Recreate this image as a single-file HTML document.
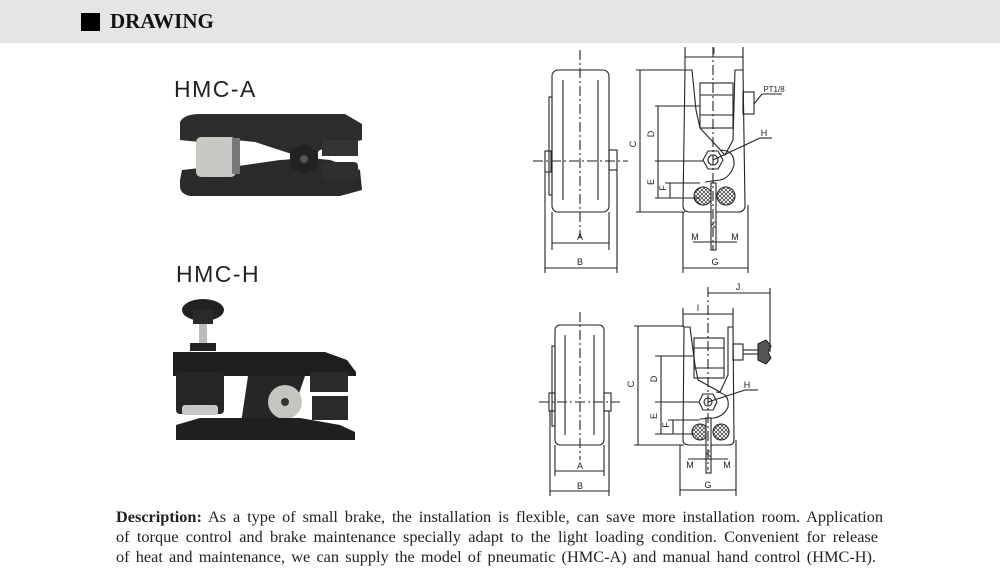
<!DOCTYPE html>
<html><head><meta charset="utf-8"><style>
body{margin:0;width:1000px;height:579px;background:#fff;overflow:hidden;position:relative;font-family:"Liberation Serif",serif}
.hdr{position:absolute;left:0;top:0;width:1000px;height:43px;background:#e5e5e5}
.sq{position:absolute;left:81px;top:13px;width:19px;height:18px;background:#000}
.tt{position:absolute;left:110px;top:9px;font-weight:bold;font-size:21px;color:#111}
.lbl{position:absolute;font-family:"Liberation Sans",sans-serif;font-size:23px;letter-spacing:1.5px;color:#222}
.dl{position:absolute;left:116px;font-size:16.3px;line-height:20px;color:#222;text-align:justify;text-align-last:justify}
svg{position:absolute;left:0;top:0}
</style></head><body>
<div class="hdr"></div><div class="sq"></div><div class="tt">DRAWING</div>
<div class="lbl" style="left:174px;top:76px">HMC-A</div>
<div class="lbl" style="left:176px;top:261px">HMC-H</div>
<div class="dl" style="top:507px;width:767px"><b>Description:</b> As a type of small brake, the installation is flexible, can save more installation room. Application</div>
<div class="dl" style="top:527px;width:762px">of torque control and brake maintenance specially adapt to the light loading condition. Convenient for release</div>
<div class="dl" style="top:547px;width:760px">of heat and maintenance, we can supply the model of pneumatic (HMC-A) and manual hand control (HMC-H).</div>
<svg width="1000" height="579" viewBox="0 0 1000 579">
<defs>
<pattern id="h" width="4" height="4" patternUnits="userSpaceOnUse"><path d="M0 0L4 4M4 0L0 4" stroke="#333" stroke-width="0.7"/></pattern>
</defs>
<g>
<path d="M180 122 Q184 114 200 114 L345 114 L362 124 L362 140 L340 145 L320 150 L310 160 L255 142 L235 140 L200 142 L180 140 Z" fill="#2c2c2c"/>
<path d="M180 180 L182 170 L200 168 L225 168 L280 160 L310 158 L330 160 L360 170 L362 190 L340 196 L190 196 Q180 194 180 186 Z" fill="#2a2a2a"/>
<rect x="196" y="137" width="40" height="40" rx="5" fill="#c8c8c4"/>
<rect x="232" y="138" width="8" height="36" fill="#777"/>
<polygon points="290,150 305,144 318,152 318,168 305,174 290,168" fill="#222"/>
<circle cx="304" cy="159" r="4" fill="#555"/>
<rect x="322" y="140" width="36" height="16" fill="#333"/>
<rect x="322" y="162" width="36" height="18" rx="4" fill="#2f2f2f"/>
</g>
<g>
<ellipse cx="203" cy="310" rx="21" ry="11" fill="#222"/>
<rect x="193" y="310" width="20" height="14" fill="#2a2a2a"/>
<rect x="199" y="324" width="8" height="26" fill="#bbb"/>
<rect x="190" y="343" width="26" height="8" fill="#222"/>
<path d="M173 352 L325 352 L347 360 L356 372 L356 376 L173 376 Z" fill="#1e1e1e"/>
<rect x="176" y="372" width="48" height="42" rx="4" fill="#252525"/>
<rect x="182" y="405" width="36" height="10" rx="3" fill="#c6c6c6"/>
<path d="M248 376 L305 376 L290 420 L240 430 Z" fill="#262626"/>
<circle cx="285" cy="402" r="17" fill="#c4c4c0"/>
<circle cx="285" cy="402" r="4" fill="#333"/>
<rect x="310" y="372" width="38" height="20" fill="#2a2a2a"/>
<rect x="312" y="396" width="36" height="24" fill="#2a2a2a"/>
<path d="M176 425 L200 418 L300 418 L340 425 L355 432 L355 440 L176 440 Z" fill="#1f1f1f"/>
</g>
<g fill="none" stroke="#222" stroke-width="1.1" font-family="Liberation Sans,sans-serif" font-size="9">
<rect x="552" y="70" width="57" height="142" rx="6"/>
<line x1="563" y1="80" x2="563" y2="200"/><line x1="598" y1="80" x2="598" y2="200"/>
<rect x="549" y="97" width="3" height="98"/>
<rect x="545" y="151" width="6" height="21"/><rect x="609" y="150" width="8" height="20"/>
<line x1="580" y1="50" x2="580" y2="238" stroke-dasharray="10 3 2 3"/>
<line x1="533" y1="161" x2="628" y2="161" stroke-dasharray="10 3 2 3"/>
<line x1="552" y1="212" x2="552" y2="250"/><line x1="609" y1="212" x2="609" y2="250"/>
<line x1="552" y1="243" x2="609" y2="243"/>
<line x1="545" y1="172" x2="545" y2="273"/><line x1="617" y1="170" x2="617" y2="273"/>
<line x1="545" y1="268" x2="617" y2="268"/>
<path d="M685 70 L692 70 L696 110 L700 128 L725 155 L733 140 L735 70 L743 70 L745 205 Q745 212 738 212 L690 212 Q683 212 683 205 Z"/>
<rect x="700" y="83" width="33" height="45"/><line x1="700" y1="95" x2="733" y2="95"/><line x1="700" y1="115" x2="733" y2="115"/>
<rect x="743" y="92" width="11" height="22"/>
<polygon points="703,160 708,151 718,151 723,160 718,169 708,169"/><circle cx="713" cy="160" r="5"/>
<path d="M720 150 Q735 150 734 165 Q730 178 720 180 L705 182"/>
<circle cx="703" cy="196" r="9" fill="url(#h)"/><circle cx="726" cy="196" r="9" fill="url(#h)"/>
<rect x="711" y="183" width="5" height="67" fill="#fff"/>
<line x1="713" y1="47" x2="713" y2="250" stroke-dasharray="10 3 2 3"/>
<line x1="685" y1="47" x2="685" y2="70"/><line x1="743" y1="47" x2="743" y2="70"/><line x1="685" y1="57" x2="743" y2="57"/>
<line x1="640" y1="70" x2="640" y2="212"/><line x1="636" y1="70" x2="685" y2="70"/><line x1="636" y1="212" x2="685" y2="212"/>
<line x1="658" y1="106" x2="658" y2="198"/><line x1="670" y1="183" x2="670" y2="198"/>
<line x1="655" y1="106" x2="700" y2="106"/><line x1="655" y1="161" x2="703" y2="161"/><line x1="665" y1="183" x2="700" y2="183"/><line x1="655" y1="198" x2="700" y2="198"/>
<line x1="754" y1="104" x2="762" y2="94"/><line x1="762" y1="94" x2="782" y2="94"/>
<line x1="713" y1="160" x2="760" y2="138"/><line x1="760" y1="138" x2="772" y2="138"/>
<line x1="693" y1="242" x2="737" y2="242"/>
<line x1="683" y1="212" x2="683" y2="273"/><line x1="748" y1="205" x2="748" y2="273"/><line x1="683" y1="268" x2="748" y2="268"/>
<rect x="555" y="325" width="49" height="120" rx="5"/>
<line x1="565" y1="335" x2="565" y2="435"/><line x1="594" y1="335" x2="594" y2="435"/>
<rect x="552" y="346" width="3" height="80"/>
<rect x="549" y="393" width="6" height="18"/><rect x="604" y="393" width="7" height="18"/>
<line x1="580" y1="312" x2="580" y2="460" stroke-dasharray="10 3 2 3"/>
<line x1="539" y1="402" x2="620" y2="402" stroke-dasharray="10 3 2 3"/>
<line x1="555" y1="445" x2="555" y2="476"/><line x1="604" y1="445" x2="604" y2="476"/><line x1="555" y1="471" x2="604" y2="471"/>
<line x1="550" y1="411" x2="550" y2="496"/><line x1="609" y1="411" x2="609" y2="496"/><line x1="550" y1="491" x2="609" y2="491"/>
<path d="M684 327 L690 327 L695 365 L698 380 L720 392 L728 375 L728 327 L733 327 L734 440 Q734 445 728 445 L690 445 Q683 445 683 440 Z"/>
<rect x="694" y="338" width="30" height="40"/><line x1="694" y1="348" x2="724" y2="348"/><line x1="694" y1="368" x2="724" y2="368"/>
<rect x="733" y="344" width="10" height="16"/><line x1="743" y1="350" x2="758" y2="350"/><line x1="743" y1="354" x2="758" y2="354"/>
<path d="M758 344 L766 340 L771 346 L768 352 L771 358 L766 364 L758 360 Z" fill="#555"/>
<polygon points="699,402 703,394 713,394 717,402 713,410 703,410"/><circle cx="708" cy="402" r="4"/>
<path d="M716 392 Q730 393 728 407 Q724 416 714 418 L700 419"/>
<circle cx="700" cy="432" r="8" fill="url(#h)"/><circle cx="721" cy="432" r="8" fill="url(#h)"/>
<rect x="706" y="418" width="5" height="55" fill="#fff"/>
<line x1="708" y1="287" x2="708" y2="470" stroke-dasharray="10 3 2 3"/>
<line x1="683" y1="308" x2="683" y2="327"/><line x1="733" y1="308" x2="733" y2="327"/><line x1="683" y1="314" x2="733" y2="314"/>
<line x1="708" y1="293" x2="770" y2="293"/><line x1="770" y1="288" x2="770" y2="352"/>
<line x1="638" y1="326" x2="638" y2="445"/><line x1="634" y1="326" x2="684" y2="326"/><line x1="634" y1="445" x2="684" y2="445"/>
<line x1="661" y1="356" x2="661" y2="434"/><line x1="673" y1="420" x2="673" y2="434"/>
<line x1="655" y1="356" x2="694" y2="356"/><line x1="655" y1="402" x2="699" y2="402"/><line x1="668" y1="420" x2="700" y2="420"/><line x1="655" y1="434" x2="693" y2="434"/>
<line x1="708" y1="402" x2="745" y2="390"/><line x1="745" y1="390" x2="758" y2="390"/>
<line x1="688" y1="459" x2="728" y2="459"/>
<line x1="680" y1="445" x2="680" y2="496"/><line x1="736" y1="440" x2="736" y2="496"/><line x1="680" y1="490" x2="736" y2="490"/>
</g>
<g font-family="Liberation Sans,sans-serif" font-size="9" fill="#222" text-anchor="middle">
<text x="580" y="240">A</text><text x="580" y="265">B</text><text x="715" y="265">G</text>
<text x="774" y="92" font-size="8">PT1/8</text><text x="764" y="136">H</text>
<text x="714" y="54">I</text>
<text x="713" y="228">K</text><text x="695" y="240">M</text><text x="735" y="240">M</text>
<text x="636" y="144" transform="rotate(-90 636 144)">C</text>
<text x="654" y="134" transform="rotate(-90 654 134)">D</text>
<text x="654" y="182" transform="rotate(-90 654 182)">E</text>
<text x="666" y="188" transform="rotate(-90 666 188)">F</text>
<text x="580" y="469">A</text><text x="580" y="489">B</text><text x="708" y="488">G</text>
<text x="698" y="311">I</text><text x="738" y="290">J</text><text x="747" y="388">H</text>
<text x="708" y="457">K</text><text x="690" y="468">M</text><text x="727" y="468">M</text>
<text x="634" y="384" transform="rotate(-90 634 384)">C</text>
<text x="657" y="379" transform="rotate(-90 657 379)">D</text>
<text x="657" y="416" transform="rotate(-90 657 416)">E</text>
<text x="669" y="425" transform="rotate(-90 669 425)">F</text>
</g>
</svg>
</body></html>
